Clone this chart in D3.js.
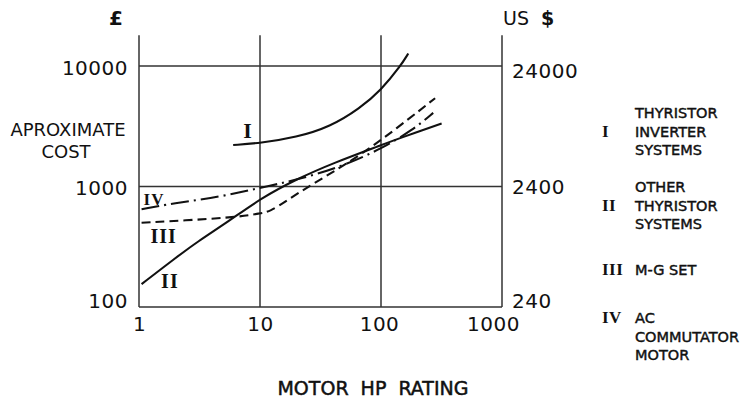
<!DOCTYPE html>
<meta charset="utf-8">
<script src="https://d3js.org/d3.v7.min.js"></script>
<style>
  body { margin: 0; background: #fff; }
  text { fill: #111; }
  .lettering { font-family: "DejaVu Sans", sans-serif; }
  .roman { font-family: "Liberation Serif", serif; font-weight: bold; }
</style>
<body>
<div id="chart"></div>
<script>
// axis ticks
var hpTicks = [1, 10, 100, 1000];
var poundTicks = [100, 1000, 10000];
var dollarTicks = [240, 2400, 24000];

// curves: [motor hp, approx cost in pounds]
var curveI   = [[6, 2210], [10, 2290], [20, 2560], [38, 3130], [67, 4460], [100, 6300], [145, 10000], [168, 12700]];
var curveII  = [[1.05, 155], [2, 255], [3, 345], [5.6, 520], [10, 790], [20, 1150], [40, 1560], [100, 2200], [140, 2500], [317, 3340]];
var curveIII = [[1.05, 500], [3, 530], [6.8, 560], [10, 600], [12, 615], [17, 775], [27.6, 1060], [50, 1500], [100, 2400], [280, 5400]];
var curveIV  = [[1.05, 647], [1.9, 725], [4.7, 820], [10, 975], [20, 1130], [48, 1470], [100, 2050], [184, 2950], [270, 4080]];

var numerals = ["I", "II", "III", "IV"];
var legendText = [
  ["THYRISTOR", "INVERTER", "SYSTEMS"],
  ["OTHER", "THYRISTOR", "SYSTEMS"],
  ["M-G SET"],
  ["AC", "COMMUTATOR", "MOTOR"]
];

var W = 753, H = 409;
var svg = d3.select("#chart").append("svg")
  .attr("width", W).attr("height", H);

var x = d3.scaleLog().domain([1, 1000]).range([139, 502]);
var y = d3.scaleLog().domain([100, 10000]).range([307, 66]);
var yUsd = d3.scaleLog().domain([240, 24000]).range([307, 66]);
var frameTop = 18000; // verticals run a bit above the 10000 line

// frame and grid
svg.append("g").selectAll("line.v")
  .data(hpTicks).enter().append("line")
    .attr("x1", d => x(d)).attr("x2", d => x(d))
    .attr("y1", y(frameTop)).attr("y2", y(100))
    .attr("stroke", "#333").attr("stroke-width", 1.5);

svg.append("g").selectAll("line.h")
  .data(poundTicks).enter().append("line")
    .attr("x1", x(1)).attr("x2", x(1000))
    .attr("y1", d => y(d)).attr("y2", d => y(d))
    .attr("stroke", "#333").attr("stroke-width", 1.5);

// tick labels through d3 axes
function styleAxis(g) {
  g.select(".domain").remove();
  g.selectAll("text")
    .attr("class", "lettering")
    .attr("font-size", 20)
    .attr("letter-spacing", 0.5)
    .attr("fill", "#111");
}

svg.append("g")
  .attr("transform", "translate(" + x(1) + ",0)")
  .call(d3.axisLeft(y).tickValues(poundTicks).tickSize(0).tickPadding(11).tickFormat(d3.format("d")))
  .call(styleAxis)
  .selectAll("text").attr("dy", d => d === 100 ? "0.02em" : "0.4em");

svg.append("g")
  .attr("transform", "translate(" + x(1000) + ",0)")
  .call(d3.axisRight(yUsd).tickValues(dollarTicks).tickSize(0).tickPadding(10).tickFormat(d3.format("d")))
  .call(styleAxis)
  .selectAll("text").attr("dy", d => d === 240 ? "0.02em" : d === 24000 ? "0.55em" : "0.35em");

svg.append("g")
  .attr("transform", "translate(0," + y(100) + ")")
  .call(d3.axisBottom(x).tickValues(hpTicks).tickSize(0).tickPadding(10).tickFormat(d3.format("d")))
  .call(styleAxis)
  .selectAll("text").attr("dx", d => d === 1000 ? -9 : d === 100 ? -2 : 0);

// curves
var line = d3.line()
  .x(d => x(d[0]))
  .y(d => y(d[1]))
  .curve(d3.curveBasis);

var curves = [
  { data: curveI, dash: null },
  { data: curveII, dash: null },
  { data: curveIII, dash: "9,5" },
  { data: curveIV, dash: "18,5,2,5" }
];

svg.append("g").selectAll("path")
  .data(curves).enter().append("path")
    .attr("d", d => line(d.data))
    .attr("fill", "none")
    .attr("stroke", "#111")
    .attr("stroke-width", 2.1)
    .attr("stroke-dasharray", d => d.dash);

// numerals next to the curves
var curveLabels = [
  { t: numerals[0], hp: 7.95, cost: 2520, size: 22 },
  { t: numerals[1], hp: 1.8, cost: 144, size: 20 },
  { t: numerals[2], hp: 1.6, cost: 340, size: 20 },
  { t: numerals[3], hp: 1.33, cost: 702, size: 17 }
];
svg.append("g").selectAll("text")
  .data(curveLabels).enter().append("text")
    .attr("class", "roman")
    .attr("x", d => x(d.hp)).attr("y", d => y(d.cost))
    .attr("text-anchor", "middle")
    .attr("letter-spacing", 1)
    .attr("font-size", d => d.size)
    .text(d => d.t);

// axis titles
svg.append("text").attr("class", "lettering")
  .attr("x", 116).attr("y", 25).attr("text-anchor", "middle")
  .attr("font-size", 20).attr("font-weight", "bold")
  .text("£");

var us = svg.append("text").attr("class", "lettering")
  .attr("x", 503).attr("y", 25).attr("font-size", 19);
us.append("tspan").text("US ");
us.append("tspan").attr("font-weight", "bold").attr("dx", 6).text("$");

svg.append("text").attr("class", "lettering")
  .attr("x", 68).attr("y", 136).attr("text-anchor", "middle")
  .attr("font-size", 18).text("APROXIMATE");
svg.append("text").attr("class", "lettering")
  .attr("x", 66).attr("y", 158).attr("text-anchor", "middle")
  .attr("font-size", 18).text("COST");

svg.append("text").attr("class", "lettering")
  .attr("x", 373).attr("y", 395).attr("text-anchor", "middle")
  .attr("font-size", 19)
  .attr("stroke", "#111").attr("stroke-width", 0.5)
  .attr("word-spacing", 6)
  .text("MOTOR HP RATING");

// legend
var legendTop = [118, 192, 275, 323];
var numeralRow = [1, 1, 0, 0];
var lineGap = 18.5;

var items = svg.append("g").selectAll("g")
  .data(legendText).enter().append("g");

items.append("text")
  .attr("class", "roman")
  .attr("x", 602)
  .attr("y", (d, i) => legendTop[i] + numeralRow[i] * lineGap)
  .attr("font-size", 17)
  .attr("letter-spacing", 0.5)
  .text((d, i) => numerals[i]);

items.each(function(d, i) {
  d3.select(this).selectAll("text.lbl")
    .data(d).enter().append("text")
      .attr("class", "lettering lbl")
      .attr("x", 635)
      .attr("y", (t, j) => legendTop[i] + j * lineGap)
      .attr("font-size", 14.5)
      .attr("stroke", "#111").attr("stroke-width", 0.45)
      .text(t => t);
});
</script>
</body>
